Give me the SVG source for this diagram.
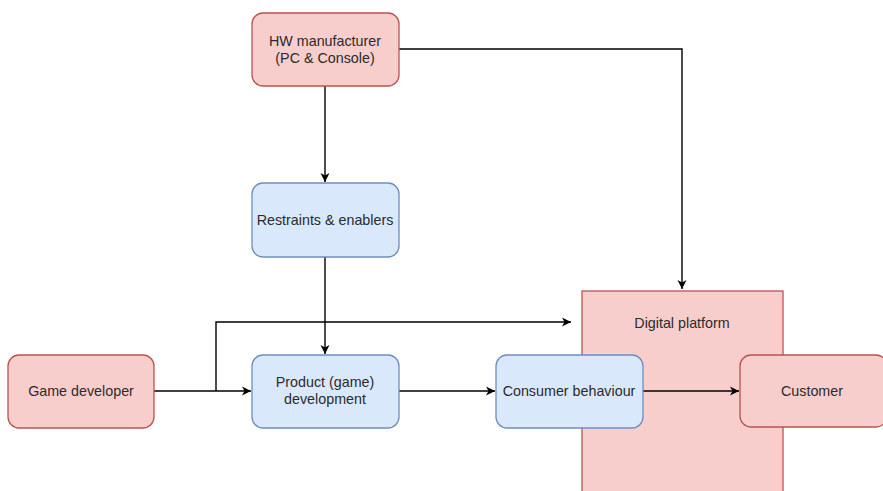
<svg xmlns="http://www.w3.org/2000/svg" width="883" height="491" viewBox="0 0 883 491">
<defs>
<marker id="arr" markerWidth="12" markerHeight="12" refX="10" refY="6" orient="auto" markerUnits="userSpaceOnUse">
<path d="M1,1.5 L10,6 L1,10.5 L3.5,6 Z" fill="#000"/>
</marker>
<style>
.red{fill:#f8cecc;stroke:#b85450;stroke-width:1.3}
.blue{fill:#dae8fc;stroke:#6c8ebf;stroke-width:1.3}
text{font-family:"Liberation Sans",Arial,sans-serif;font-size:14.3px;fill:#2b2b2b;text-anchor:middle}
.c{fill:none;stroke:#000;stroke-width:1.4;marker-end:url(#arr)}
</style>
</defs>
<rect width="883" height="491" fill="#fff"/>
<g id="platform">
<rect class="red" x="582" y="291" width="201" height="210"/>
<text x="682" y="328">Digital platform</text>
</g>
<g id="connectors">
<path class="c" d="M399,49 H682 V289"/>
<path class="c" d="M325,86 V182"/>
<path class="c" d="M325,257 V354"/>
<path class="c" d="M154,391 H251"/>
<path class="c" d="M216,391 V322 H571"/>
<path class="c" d="M399,391 H495"/>
<path class="c" d="M643,391 H739"/>
</g>
<g id="hw">
<rect class="red" x="252" y="13" width="147" height="73" rx="11"/>
<text x="325" y="46">HW manufacturer</text>
<text x="325" y="63">(PC &amp; Console)</text>
</g>
<g id="restraints">
<rect class="blue" x="252" y="183" width="147" height="74" rx="11"/>
<text x="325" y="225">Restraints &amp; enablers</text>
</g>
<g id="gamedev">
<rect class="red" x="8" y="355" width="146" height="73" rx="11"/>
<text x="81" y="396">Game developer</text>
</g>
<g id="product">
<rect class="blue" x="252" y="355" width="147" height="73" rx="11"/>
<text x="325" y="387">Product (game)</text>
<text x="325" y="404">development</text>
</g>
<g id="consumer">
<rect class="blue" x="496" y="355" width="147" height="73" rx="11"/>
<text x="569" y="396">Consumer behaviour</text>
</g>
<g id="customer">
<rect class="red" x="740" y="355" width="147" height="72" rx="11"/>
<text x="812" y="396">Customer</text>
</g>
</svg>
